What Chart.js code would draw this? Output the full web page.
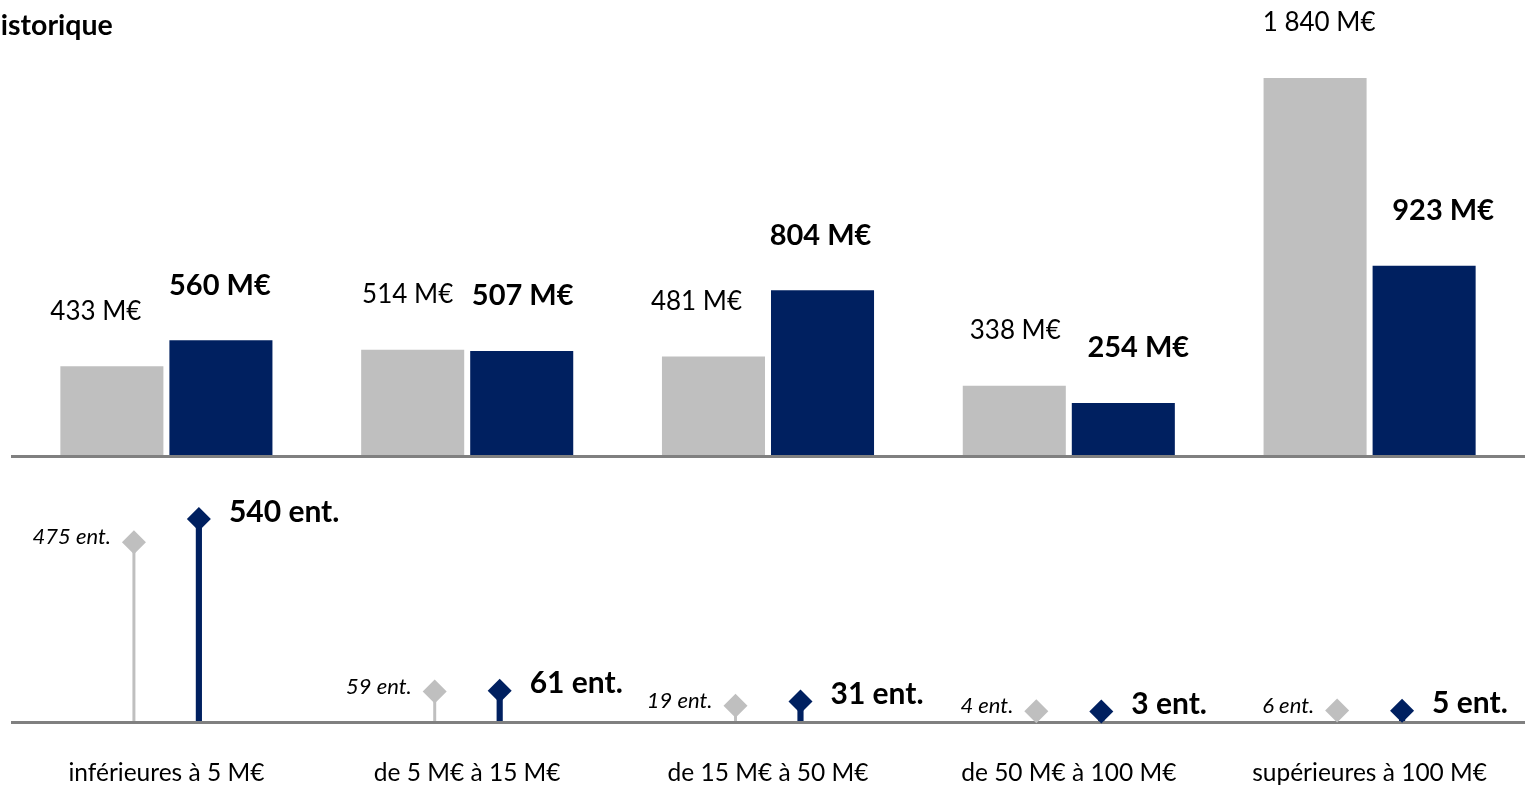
<!DOCTYPE html>
<html><head><meta charset="utf-8">
<script src="https://cdn.jsdelivr.net/npm/chart.js@4.4.1/dist/chart.umd.min.js"></script>
<style>
html,body{margin:0;padding:0;width:1526px;height:786px;overflow:hidden;background:#fff;}
#title{position:absolute;left:-21px;top:7px;font:bold 28.5px Lato, sans-serif;color:#000;white-space:nowrap;}
canvas{position:absolute;left:0;}
#top{top:0;}
#bot{top:456px;}
</style></head><body>
<canvas id="top" width="1526" height="460"></canvas>
<canvas id="bot" width="1526" height="368"></canvas>
<div id="title">Historique</div>
<script>
// ---- data ----
const categories = ['inférieures à 5 M€', 'de 5 M€ à 15 M€', 'de 15 M€ à 50 M€', 'de 50 M€ à 100 M€', 'supérieures à 100 M€'];
const amountHistorique = [433, 514, 481, 338, 1840];
const amountActuel = [560, 507, 804, 254, 923];
const countHistorique = [475, 59, 19, 4, 6];
const countActuel = [540, 61, 31, 3, 5];
const amountUnit = 'M€';
const countUnit = 'ent.';

// ---- styles ----
const GREY = '#BFBFBF';
const NAVY = '#002060';
const AXIS = '#808080';
const FONT = 'Lato, sans-serif';
// manual horizontal nudges of the amount labels (px), as placed in the original
const LABEL_NUDGE = [[-16, -5, -17, 1, 4], [-1, 1, -2, 15, 19]];

function fmt(v) { return String(v).replace(/\B(?=(\d{3})+(?!\d))/g, '\u00a0'); }

function axisLinePlugin(yPix) {
  return {
    id: 'axisLine',
    afterDatasetsDraw(chart) {
      const ctx = chart.ctx;
      ctx.save();
      ctx.strokeStyle = AXIS;
      ctx.lineWidth = 3;
      ctx.beginPath();
      ctx.moveTo(11, yPix(chart));
      ctx.lineTo(1525, yPix(chart));
      ctx.stroke();
      ctx.restore();
    }
  };
}

const barLabels = {
  id: 'barLabels',
  afterDatasetsDraw(chart) {
    const ctx = chart.ctx;
    ctx.save();
    ctx.textAlign = 'center';
    ctx.textBaseline = 'middle';
    ctx.fillStyle = '#000';
    chart.data.datasets.forEach((ds, di) => {
      const meta = chart.getDatasetMeta(di);
      ctx.font = di === 0 ? '26px ' + FONT : 'bold 29px ' + FONT;
      meta.data.forEach((bar, i) => {
        ctx.fillText(fmt(ds.data[i]) + ' ' + amountUnit, bar.x + LABEL_NUDGE[di][i], bar.y - 55);
      });
    });
    ctx.restore();
  }
};

function diamond(ctx, x, y, r) {
  ctx.beginPath();
  ctx.moveTo(x - r, y);
  ctx.lineTo(x, y - r);
  ctx.lineTo(x + r, y);
  ctx.lineTo(x, y + r);
  ctx.closePath();
  ctx.fill();
}

const lollipop = {
  id: 'lollipop',
  afterDatasetsDraw(chart) {
    const ctx = chart.ctx;
    ctx.save();
    chart.data.datasets.forEach((ds, di) => {
      const meta = chart.getDatasetMeta(di);
      meta.data.forEach((bar, i) => {
        ctx.fillStyle = ds.backgroundColor;
        diamond(ctx, bar.x, bar.y, 12);
        ctx.fillStyle = '#000';
        ctx.textBaseline = 'middle';
        const txt = fmt(ds.data[i]) + ' ' + countUnit;
        if (di === 0) {
          ctx.font = 'italic 22px ' + FONT;
          ctx.textAlign = 'right';
          ctx.fillText(txt, bar.x - 23, bar.y - 5);
        } else {
          ctx.font = 'bold 30px ' + FONT;
          ctx.textAlign = 'left';
          ctx.fillText(txt, bar.x + 30, bar.y - 7);
        }
      });
    });
    ctx.restore();
  }
};

new Chart(document.getElementById('top'), {
  type: 'bar',
  data: {
    labels: categories,
    datasets: [
      { label: 'Historique', data: amountHistorique, backgroundColor: GREY, categoryPercentage: 0.725, barPercentage: 0.945 },
      { label: 'Actuel', data: amountActuel, backgroundColor: NAVY, categoryPercentage: 0.725, barPercentage: 0.945 }
    ]
  },
  options: {
    responsive: false, animation: false, devicePixelRatio: 1,
    layout: { padding: { left: 16, right: 6, top: 0, bottom: 5 } },
    plugins: { legend: { display: false }, tooltip: { enabled: false } },
    scales: {
      x: { display: false },
      y: { display: false, min: 0, max: 2220 }
    }
  },
  plugins: [axisLinePlugin(c => c.chartArea.bottom + 1.5), barLabels]
});

const BOT_MIN = -28, BOT_MAX = 716;
new Chart(document.getElementById('bot'), {
  type: 'bar',
  data: {
    labels: categories,
    datasets: [
      { label: 'Historique', data: countHistorique, base: BOT_MIN, backgroundColor: GREY, categoryPercentage: 0.432, barPercentage: 0.046 },
      { label: 'Actuel', data: countActuel, base: BOT_MIN, backgroundColor: NAVY, categoryPercentage: 0.432, barPercentage: 0.095 }
    ]
  },
  options: {
    responsive: false, animation: false, devicePixelRatio: 1,
    layout: { padding: { left: 16, right: 6, top: 0, bottom: 0 } },
    plugins: { legend: { display: false }, tooltip: { enabled: false } },
    scales: {
      x: {
        grid: { display: false, drawTicks: false },
        border: { display: false },
        ticks: { color: '#000', font: { family: FONT, size: 24.5 }, padding: 36, maxRotation: 0, autoSkip: false }
      },
      y: { display: false, min: BOT_MIN, max: BOT_MAX }
    }
  },
  plugins: [axisLinePlugin(c => c.chartArea.bottom), lollipop]
});
</script>
</body></html>
